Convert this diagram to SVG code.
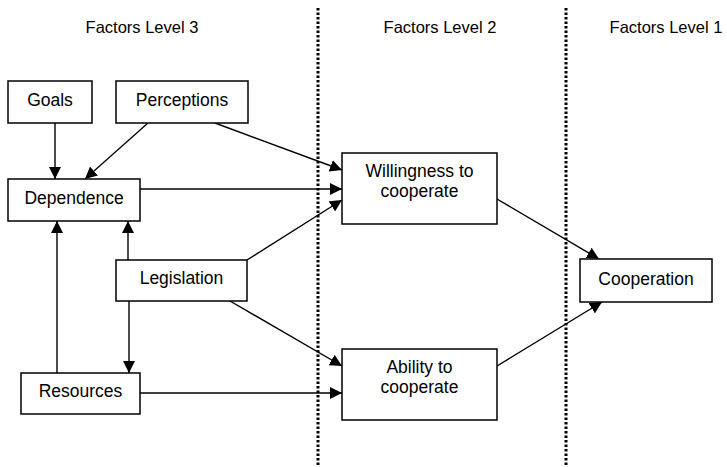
<svg xmlns="http://www.w3.org/2000/svg" width="727" height="467" viewBox="0 0 727 467">
<style>
.box{fill:#fff;stroke:#000;stroke-width:1.5}
.t{font-family:"Liberation Sans",Arial,sans-serif;font-size:17.5px;fill:#000;text-anchor:middle}
.h{font-family:"Liberation Sans",Arial,sans-serif;font-size:16.5px;fill:#000;text-anchor:middle}
.c{fill:none;stroke:#000;stroke-width:1.4}
.dot{fill:none;stroke:#000;stroke-width:3;stroke-dasharray:2.5 2}
</style>
<defs>
<marker id="arr" markerUnits="userSpaceOnUse" markerWidth="12" markerHeight="12" viewBox="0 0 11 11" refX="11" refY="5.5" orient="auto">
<path d="M0,0 L11,5.5 L0,11 z" fill="#000"/>
</marker>
</defs>
<g id="headers">
<text class="h" x="142" y="33">Factors Level 3</text>
<text class="h" x="440" y="33">Factors Level 2</text>
<text class="h" x="666" y="33">Factors Level 1</text>
</g>
<g id="separators">
<line class="dot" x1="318" y1="8" x2="318" y2="466"/>
<line class="dot" x1="566" y1="8" x2="566" y2="466"/>
</g>
<g id="connectors">
<line class="c" x1="55" y1="123" x2="55" y2="179" marker-end="url(#arr)"/>
<line class="c" x1="148" y1="123" x2="85" y2="179" marker-end="url(#arr)"/>
<line class="c" x1="215" y1="123" x2="342" y2="170" marker-end="url(#arr)"/>
<line class="c" x1="140" y1="189" x2="342" y2="189" marker-end="url(#arr)"/>
<line class="c" x1="247" y1="260" x2="342" y2="200" marker-end="url(#arr)"/>
<line class="c" x1="128" y1="260" x2="128" y2="221" marker-end="url(#arr)"/>
<line class="c" x1="57" y1="373" x2="57" y2="221" marker-end="url(#arr)"/>
<line class="c" x1="129" y1="301" x2="129" y2="373" marker-end="url(#arr)"/>
<line class="c" x1="230" y1="301" x2="342" y2="366" marker-end="url(#arr)"/>
<line class="c" x1="140" y1="393" x2="342" y2="393" marker-end="url(#arr)"/>
<line class="c" x1="497" y1="199" x2="599" y2="259" marker-end="url(#arr)"/>
<line class="c" x1="497" y1="366" x2="602" y2="302" marker-end="url(#arr)"/>
</g>
<g id="goals"><rect class="box" x="8" y="81" width="84" height="42"/><text class="t" x="50" y="106">Goals</text></g>
<g id="perceptions"><rect class="box" x="116" y="81" width="132" height="42"/><text class="t" x="182" y="106">Perceptions</text></g>
<g id="dependence"><rect class="box" x="8" y="179" width="132" height="42"/><text class="t" x="74" y="204">Dependence</text></g>
<g id="legislation"><rect class="box" x="116" y="260" width="131" height="41"/><text class="t" x="181.5" y="284">Legislation</text></g>
<g id="resources"><rect class="box" x="21" y="373" width="119" height="41"/><text class="t" x="80.5" y="397">Resources</text></g>
<g id="willingness"><rect class="box" x="342" y="153" width="155" height="71"/><text class="t" x="419.5" y="177">Willingness to</text><text class="t" x="419.5" y="197">cooperate</text></g>
<g id="ability"><rect class="box" x="342" y="349" width="155" height="71"/><text class="t" x="419.5" y="373">Ability to</text><text class="t" x="419.5" y="393">cooperate</text></g>
<g id="cooperation"><rect class="box" x="580" y="259" width="132" height="43"/><text class="t" x="646" y="285">Cooperation</text></g>
</svg>
